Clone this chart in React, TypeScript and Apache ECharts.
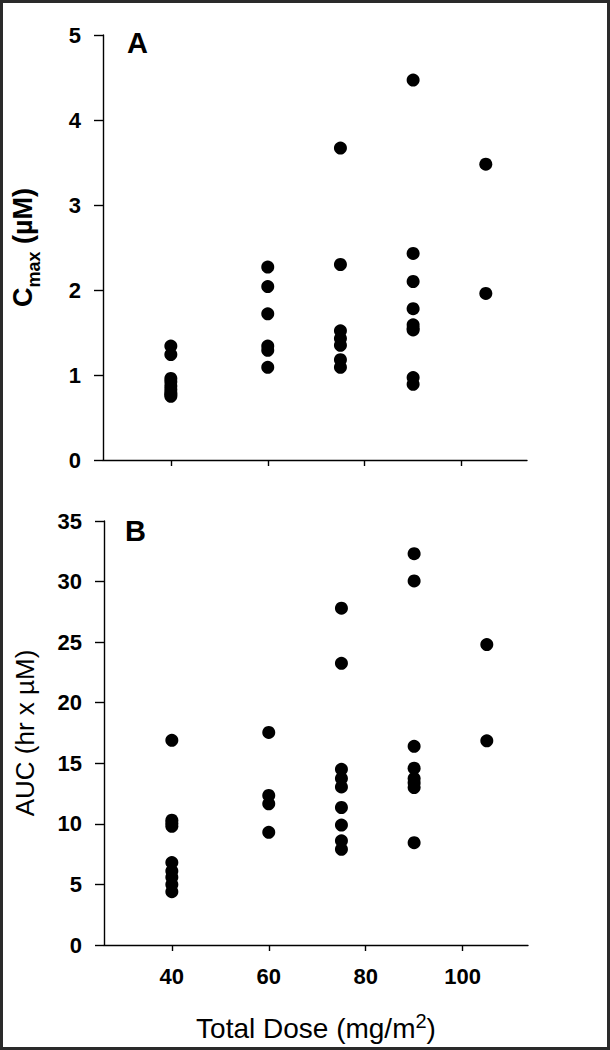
import React, { useEffect, useRef } from "react";
import * as echarts from "echarts";

const FONT = "'Liberation Sans', Arial, Helvetica, sans-serif";

const doses = [40, 60, 75, 90, 105];
const xTicks = [40, 60, 80, 100];

// Panel A: Cmax (µM) per dose group
const cmax40 = [1.34, 1.24, 0.96, 0.92, 0.87, 0.83, 0.79, 0.77, 0.75];
const cmax60 = [2.27, 2.04, 1.72, 1.34, 1.29, 1.09];
const cmax75 = [3.67, 2.3, 1.52, 1.43, 1.35, 1.18, 1.09];
const cmax90 = [4.47, 2.43, 2.1, 1.78, 1.59, 1.55, 1.53, 0.97, 0.89];
const cmax105 = [3.48, 1.96];

// Panel B: AUC (hr x µM) per dose group
const auc40 = [16.9, 10.3, 10.05, 9.8, 6.8, 6.1, 5.6, 5.0, 4.4];
const auc60 = [17.55, 12.35, 11.65, 9.3];
const auc75 = [27.8, 23.25, 14.5, 13.75, 13.05, 11.35, 9.9, 8.6, 7.9];
const auc90 = [32.3, 30.05, 16.4, 14.6, 13.75, 13.4, 13.0, 8.45];
const auc105 = [24.8, 16.85];

const cmaxGroups = [cmax40, cmax60, cmax75, cmax90, cmax105];
const aucGroups = [auc40, auc60, auc75, auc90, auc105];

const toPairs = (groups: number[][]) =>
  groups.flatMap((g, i) => g.map((v) => [doses[i], v]));

export default function App() {
  const ref = useRef<HTMLDivElement>(null);

  useEffect(() => {
    if (!ref.current) return;
    const chart = echarts.init(ref.current, undefined, { renderer: "svg" });

    const axisLine = { show: true, lineStyle: { color: "#000", width: 1.4 } };
    const tickLabel = {
      color: "#000",
      fontFamily: FONT,
      fontSize: 22,
      fontWeight: "bold" as const,
    };

    const xCommon = {
      type: "value" as const,
      min: 26,
      max: 113.5,
      axisLine,
      splitLine: { show: false },
      axisTick: {
        show: true,
        customValues: xTicks,
        length: 6,
        lineStyle: { color: "#000", width: 1.4 },
      },
    };

    const yCommon = {
      type: "value" as const,
      min: 0,
      axisLine,
      splitLine: { show: false },
      axisTick: {
        show: true,
        length: 9,
        lineStyle: { color: "#000", width: 1.4 },
      },
      nameLocation: "middle" as const,
      nameRotate: 90,
    };

    const dot = {
      type: "scatter" as const,
      symbol: "circle",
      symbolSize: 13,
      itemStyle: { color: "#000", opacity: 1 },
    };

    chart.setOption({
      animation: false,
      backgroundColor: "#fff",
      grid: [
        { left: 103, top: 35, width: 424, height: 425, containLabel: false, outerBoundsMode: "none" },
        { left: 104, top: 521, width: 424, height: 424, containLabel: false, outerBoundsMode: "none" },
      ],
      xAxis: [
        {
          ...xCommon,
          gridIndex: 0,
          axisLabel: { show: false },
        },
        {
          ...xCommon,
          gridIndex: 1,
          axisLabel: { ...tickLabel, margin: 20, customValues: xTicks },
          name: "{t|Total Dose (mg/m}{sup|2}{t|)}",
          nameLocation: "middle",
          nameGap: 66,
          nameTextStyle: {
            color: "#000",
            rich: {
              t: { fontFamily: FONT, fontSize: 28, color: "#000", lineHeight: 31, verticalAlign: "bottom" },
              sup: { fontFamily: FONT, fontSize: 20, color: "#000", lineHeight: 31, verticalAlign: "top", padding: [0, 0, 12, 0] },
            },
          },
        },
      ],
      yAxis: [
        {
          ...yCommon,
          gridIndex: 0,
          max: 5,
          interval: 1,
          axisLabel: { ...tickLabel, margin: 22 },
          name: "{b|C}{s|max}{b| (µM)}",
          nameGap: 60,
          nameTextStyle: {
            color: "#000",
            rich: {
              b: { fontFamily: FONT, fontSize: 27, fontWeight: "bold", color: "#000", lineHeight: 34, verticalAlign: "top" },
              s: { fontFamily: FONT, fontSize: 18, fontWeight: "bold", color: "#000", lineHeight: 34, verticalAlign: "bottom" },
            },
          },
        },
        {
          ...yCommon,
          gridIndex: 1,
          max: 35,
          interval: 5,
          axisLabel: { ...tickLabel, margin: 22 },
          name: "AUC (hr x µM)",
          nameGap: 66,
          nameTextStyle: { color: "#000", fontFamily: FONT, fontSize: 26 },
        },
      ],
      series: [
        { ...dot, xAxisIndex: 0, yAxisIndex: 0, data: toPairs(cmaxGroups) },
        { ...dot, xAxisIndex: 1, yAxisIndex: 1, data: toPairs(aucGroups) },
      ],
      graphic: [
        {
          type: "text",
          left: 127,
          top: 28,
          style: { text: "A", fontFamily: FONT, fontSize: 29, fontWeight: "bold", fill: "#000" },
        },
        {
          type: "text",
          left: 125,
          top: 516,
          style: { text: "B", fontFamily: FONT, fontSize: 29, fontWeight: "bold", fill: "#000" },
        },
        {
          type: "rect",
          shape: { x: 1.5, y: 1.5, width: 607, height: 1047 },
          style: { fill: "none", stroke: "#2a2a2a", lineWidth: 3 },
          silent: true,
          z: 100,
        },
      ],
    });

    return () => chart.dispose();
  }, []);

  return (
    <div
      ref={ref}
      style={{ position: "absolute", left: 0, top: 0, width: 610, height: 1050, background: "#fff" }}
    />
  );
}
